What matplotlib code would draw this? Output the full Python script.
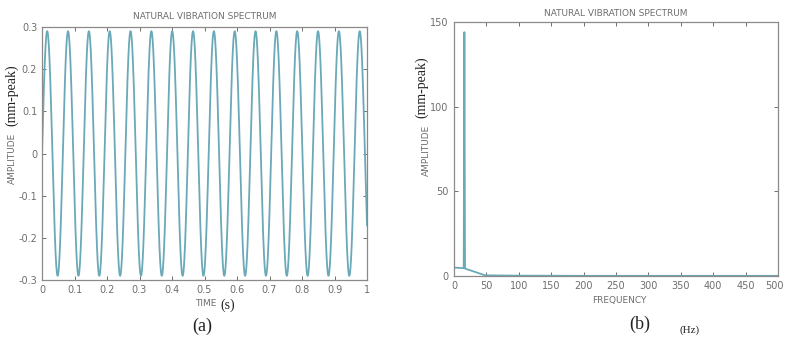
import numpy as np
import matplotlib.pyplot as plt
import matplotlib.transforms as mtransforms

# time signal (a)
amp_mm = 0.29        # peak amplitude
freq_sig = 15.6      # cycles per second
t_end = 1.0

# spectrum (b)
freq_hz = [0, 15, 16, 17, 48, 100, 150, 200, 250, 300, 350, 400, 450, 500]
spec_amp = [5.0, 4.6, 144, 4.4, 0.4, 0.2, 0.15, 0.1, 0.1, 0.1, 0.1, 0.1, 0.1, 0.1]

line_col = '#6aa9b7'
gray = '#6e6e6e'
W, H = 785, 338

fig = plt.figure(figsize=(W / 100, H / 100), dpi=100)

def box(l, t, r, b):
    return [l / W, 1 - b / H, (r - l) / W, (b - t) / H]

def style(ax):
    ax.tick_params(direction='in', top=True, right=True, labelsize=7,
                   labelcolor=gray, color=gray, length=3, width=0.7)
    for s in ax.spines.values():
        s.set_color('#8a8a8a')
        s.set_linewidth(0.9)

ax1 = fig.add_axes(box(42, 27, 367, 280))
t = np.linspace(0, t_end, 4000)
ax1.plot(t, amp_mm * np.sin(2 * np.pi * freq_sig * t), color=line_col, lw=1.3)
ax1.set_xlim(0, 1)
ax1.set_ylim(-0.3, 0.3)
ax1.set_xticks(np.arange(0, 1.01, 0.1))
ax1.set_xticklabels(['0', '0.1', '0.2', '0.3', '0.4', '0.5', '0.6', '0.7', '0.8', '0.9', '1'])
ax1.set_yticks(np.arange(-0.3, 0.31, 0.1))
ax1.set_yticklabels(['-0.3', '-0.2', '-0.1', '0', '0.1', '0.2', '0.3'])
style(ax1)
ax1.set_title('NATURAL VIBRATION SPECTRUM', fontsize=6.5, color=gray, pad=6)

ax2 = fig.add_axes(box(454, 22, 778, 276))
ax2.plot(freq_hz, spec_amp, color=line_col, lw=1.3)
ax2.set_xlim(0, 500)
ax2.set_ylim(0, 150)
ax2.set_xticks(np.arange(0, 501, 50))
ax2.set_yticks([0, 50, 100, 150])
style(ax2)
ax2.tick_params(axis='y', pad=4)
ax2.set_title('NATURAL VIBRATION SPECTRUM', fontsize=6.5, color=gray, pad=4)
# keep the last frequency label inside the figure
last = ax2.get_xticklabels()[-1]
last.set_ha('right')
last.set_transform(last.get_transform() +
                   mtransforms.ScaledTranslation(6 / 100, 0, fig.dpi_scale_trans))

# mixed-font axis labels
fig.text(12 / W, 1 - 158 / H, 'AMPLITUDE', rotation=90, ha='center', va='center',
         fontsize=6.5, color=gray)
fig.text(12 / W, 1 - 95 / H, '(mm-peak)', rotation=90, ha='center', va='center',
         fontsize=10, family='Liberation Serif', color='#222222')
fig.text(206 / W, 1 - 304 / H, 'TIME', ha='center', va='center', fontsize=6.5, color=gray)
fig.text(228 / W, 1 - 305 / H, '(s)', ha='center', va='center', fontsize=10,
         family='Liberation Serif', color='#222222')
fig.text(202 / W, 1 - 326 / H, '(a)', ha='center', va='center', fontsize=13,
         family='Liberation Serif', color='#222222')

fig.text(426 / W, 1 - 150 / H, 'AMPLITUDE', rotation=90, ha='center', va='center',
         fontsize=6.5, color=gray)
fig.text(422 / W, 1 - 87 / H, '(mm-peak)', rotation=90, ha='center', va='center',
         fontsize=10, family='Liberation Serif', color='#222222')
fig.text(619 / W, 1 - 300 / H, 'FREQUENCY', ha='center', va='center', fontsize=6.5, color=gray)
fig.text(640 / W, 1 - 324 / H, '(b)', ha='center', va='center', fontsize=13,
         family='Liberation Serif', color='#222222')
fig.text(690 / W, 1 - 330 / H, '(Hz)', ha='center', va='center', fontsize=8,
         family='Liberation Serif', color='#222222')

fig.savefig('out.png', dpi=100)
